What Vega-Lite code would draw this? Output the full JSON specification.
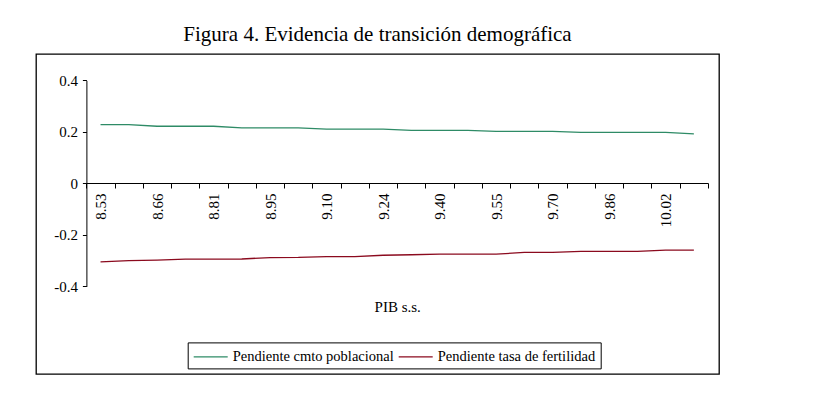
{
  "$schema": "https://vega.github.io/schema/vega-lite/v6.json",
  "autosize": {"type": "none"},
  "padding": {"left": 36, "top": 54, "right": 95, "bottom": 23},
  "width": 683,
  "height": 320,
  "background": "white",
  "title": {
    "text": "Figura 4. Evidencia de transición demográfica",
    "font": "Liberation Serif",
    "fontSize": 21,
    "fontWeight": "normal",
    "color": "black",
    "anchor": "middle",
    "offset": 9
  },
  "data": {
    "values": [
      {"pib": "8.53", "serie": "Pendiente cmto poblacional", "valor": 0.228},
      {"pib": "8.60", "serie": "Pendiente cmto poblacional", "valor": 0.228},
      {"pib": "8.66", "serie": "Pendiente cmto poblacional", "valor": 0.222},
      {"pib": "8.74", "serie": "Pendiente cmto poblacional", "valor": 0.222},
      {"pib": "8.81", "serie": "Pendiente cmto poblacional", "valor": 0.222},
      {"pib": "8.88", "serie": "Pendiente cmto poblacional", "valor": 0.216},
      {"pib": "8.95", "serie": "Pendiente cmto poblacional", "valor": 0.216},
      {"pib": "9.03", "serie": "Pendiente cmto poblacional", "valor": 0.216},
      {"pib": "9.10", "serie": "Pendiente cmto poblacional", "valor": 0.211},
      {"pib": "9.17", "serie": "Pendiente cmto poblacional", "valor": 0.211},
      {"pib": "9.24", "serie": "Pendiente cmto poblacional", "valor": 0.211},
      {"pib": "9.32", "serie": "Pendiente cmto poblacional", "valor": 0.206},
      {"pib": "9.40", "serie": "Pendiente cmto poblacional", "valor": 0.206},
      {"pib": "9.47", "serie": "Pendiente cmto poblacional", "valor": 0.206},
      {"pib": "9.55", "serie": "Pendiente cmto poblacional", "valor": 0.202},
      {"pib": "9.62", "serie": "Pendiente cmto poblacional", "valor": 0.202},
      {"pib": "9.70", "serie": "Pendiente cmto poblacional", "valor": 0.202},
      {"pib": "9.78", "serie": "Pendiente cmto poblacional", "valor": 0.198},
      {"pib": "9.86", "serie": "Pendiente cmto poblacional", "valor": 0.198},
      {"pib": "9.94", "serie": "Pendiente cmto poblacional", "valor": 0.198},
      {"pib": "10.02", "serie": "Pendiente cmto poblacional", "valor": 0.198},
      {"pib": "10.09", "serie": "Pendiente cmto poblacional", "valor": 0.192},
      {"pib": "8.53", "serie": "Pendiente tasa de fertilidad", "valor": -0.305},
      {"pib": "8.60", "serie": "Pendiente tasa de fertilidad", "valor": -0.300},
      {"pib": "8.66", "serie": "Pendiente tasa de fertilidad", "valor": -0.298},
      {"pib": "8.74", "serie": "Pendiente tasa de fertilidad", "valor": -0.294},
      {"pib": "8.81", "serie": "Pendiente tasa de fertilidad", "valor": -0.294},
      {"pib": "8.88", "serie": "Pendiente tasa de fertilidad", "valor": -0.2935},
      {"pib": "8.95", "serie": "Pendiente tasa de fertilidad", "valor": -0.288},
      {"pib": "9.03", "serie": "Pendiente tasa de fertilidad", "valor": -0.2875},
      {"pib": "9.10", "serie": "Pendiente tasa de fertilidad", "valor": -0.2845},
      {"pib": "9.17", "serie": "Pendiente tasa de fertilidad", "valor": -0.284},
      {"pib": "9.24", "serie": "Pendiente tasa de fertilidad", "valor": -0.279},
      {"pib": "9.32", "serie": "Pendiente tasa de fertilidad", "valor": -0.277},
      {"pib": "9.40", "serie": "Pendiente tasa de fertilidad", "valor": -0.275},
      {"pib": "9.47", "serie": "Pendiente tasa de fertilidad", "valor": -0.275},
      {"pib": "9.55", "serie": "Pendiente tasa de fertilidad", "valor": -0.275},
      {"pib": "9.62", "serie": "Pendiente tasa de fertilidad", "valor": -0.268},
      {"pib": "9.70", "serie": "Pendiente tasa de fertilidad", "valor": -0.268},
      {"pib": "9.78", "serie": "Pendiente tasa de fertilidad", "valor": -0.264},
      {"pib": "9.86", "serie": "Pendiente tasa de fertilidad", "valor": -0.264},
      {"pib": "9.94", "serie": "Pendiente tasa de fertilidad", "valor": -0.264},
      {"pib": "10.02", "serie": "Pendiente tasa de fertilidad", "valor": -0.259},
      {"pib": "10.09", "serie": "Pendiente tasa de fertilidad", "valor": -0.259}
    ]
  },
  "mark": {"type": "line", "strokeWidth": 1.3},
  "encoding": {
    "x": {
      "field": "pib",
      "type": "ordinal",
      "sort": null,
      "scale": {"type": "band", "range": [50.4, 672], "paddingInner": 0, "paddingOuter": 0},
      "axis": {
        "title": "PIB s.s.",
        "titleFont": "Liberation Serif",
        "titleFontSize": 15,
        "titleFontWeight": "normal",
        "titleColor": "black",
        "titleBaseline": "alphabetic",
        "titleY": 128.5,
        "offset": -191,
        "labelAngle": -90,
        "labelPadding": 5,
        "labelFont": "Liberation Serif",
        "labelFontSize": 15,
        "labelColor": "black",
        "labelExpr": "indexof(['8.53','8.66','8.81','8.95','9.10','9.24','9.40','9.55','9.70','9.86','10.02'], datum.label) >= 0 ? datum.label : ''",
        "tickBand": "extent",
        "tickSize": 5,
        "tickColor": "black",
        "domainColor": "black",
        "grid": false,
        "labelOverlap": false
      }
    },
    "y": {
      "field": "valor",
      "type": "quantitative",
      "scale": {"domain": [-0.4, 0.4], "range": [232.4, 26.4], "nice": false, "zero": false},
      "axis": {
        "title": null,
        "offset": -50.4,
        "values": [-0.4, -0.2, 0, 0.2, 0.4],
        "labelExpr": "'' + datum.value",
        "labelFont": "Liberation Serif",
        "labelFontSize": 15,
        "labelColor": "black",
        "labelPadding": 5,
        "tickSize": 4,
        "tickColor": "black",
        "domainColor": "black",
        "grid": false
      }
    },
    "color": {
      "field": "serie",
      "type": "nominal",
      "scale": {
        "domain": ["Pendiente cmto poblacional", "Pendiente tasa de fertilidad"],
        "range": ["#2e8b66", "#8b0a1e"]
      },
      "legend": {
        "title": null,
        "orient": "none",
        "legendX": 151.7,
        "legendY": 288.4,
        "direction": "horizontal",
        "strokeColor": "black",
        "padding": 5,
        "symbolType": "M-1,0H3",
        "symbolSize": 289,
        "symbolStrokeWidth": 1.3,
        "labelOffset": 21,
        "columnPadding": 1,
        "labelFont": "Liberation Serif",
        "labelFontSize": 14.5,
        "labelColor": "black",
        "labelLimit": 0
      }
    }
  },
  "config": {
    "view": {"stroke": "black", "strokeWidth": 1.3}
  }
}
